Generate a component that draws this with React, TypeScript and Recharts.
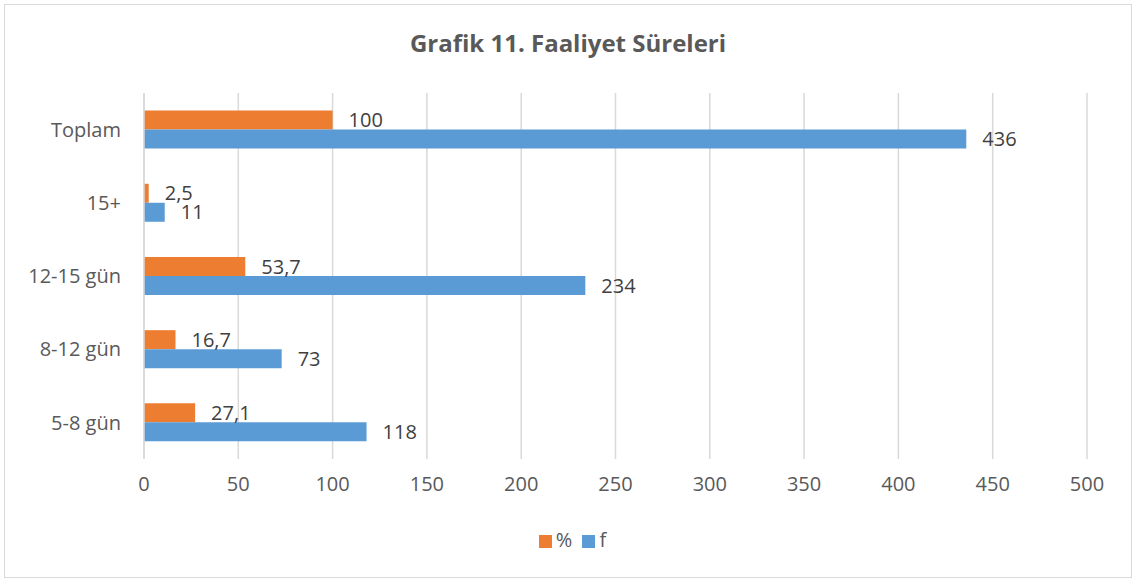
import React from 'react';
import {BarChart, Bar, XAxis, YAxis, CartesianGrid, Legend, LabelList} from 'recharts';

const categories = ['Toplam', '15+', '12-15 gün', '8-12 gün', '5-8 gün'];
const percentValues = [100, 2.5, 53.7, 16.7, 27.1];
const countValues = [436, 11, 234, 73, 118];
const xTicks = [0, 50, 100, 150, 200, 250, 300, 350, 400, 450, 500];

const data = categories.map((name, i) => ({
    name,
    pct: percentValues[i],
    f: countValues[i],
}));

const FONT = '"Open Sans", sans-serif';
const fmt = (v: any) => String(v).replace('.', ',');

export default function App() {
    return (
        <div style={{position: 'absolute', left: 0, top: 0, width: 1136, height: 582, background: '#fff', fontFamily: FONT}}>
            <div style={{position: 'absolute', left: 4, top: 4, width: 1126, height: 572, border: '1px solid #d9d9d9'}} />
            <div style={{position: 'absolute', left: 0, top: 26, width: 1136, textAlign: 'center', fontSize: 24, fontWeight: 'bold', color: '#595959'}}>
                Grafik 11. Faaliyet Süreleri
            </div>
            <BarChart
                width={1136}
                height={582}
                data={data}
                layout="vertical"
                margin={{top: 93, right: 49, left: 0, bottom: 29}}
                barCategoryGap="24%"
                barGap={0}
            >
                <CartesianGrid horizontal={false} stroke="#d9d9d9" strokeWidth={1.5} />
                <XAxis
                    type="number"
                    domain={[0, 500]}
                    ticks={xTicks}
                    axisLine={false}
                    tickLine={false}
                    tickMargin={12}
                    height={67}
                    tick={{fill: '#595959', fontSize: 20, fontFamily: FONT}}
                />
                <YAxis
                    type="category"
                    dataKey="name"
                    width={144}
                    axisLine={{stroke: '#d9d9d9', strokeWidth: 1.5}}
                    tickLine={false}
                    tickMargin={17}
                    tick={{fill: '#595959', fontSize: 20, fontFamily: FONT}}
                />
                <Legend
                    verticalAlign="bottom"
                    iconType="square"
                    iconSize={13}
                    wrapperStyle={{fontSize: 20, fontFamily: FONT, color: '#595959', left: 34}}
                    formatter={(value: any) => <span style={{color: '#595959', fontSize: 20}}>{value}</span>}
                />
                <Bar dataKey="pct" name="%" fill="#ED7D31" isAnimationActive={false}>
                    <LabelList dataKey="pct" position="right" offset={16} fill="#404040" fontSize={20} fontFamily={FONT} formatter={fmt} />
                </Bar>
                <Bar dataKey="f" name="f" fill="#5B9BD5" isAnimationActive={false}>
                    <LabelList dataKey="f" position="right" offset={16} fill="#404040" fontSize={20} fontFamily={FONT} formatter={fmt} />
                </Bar>
            </BarChart>
        </div>
    );
}
